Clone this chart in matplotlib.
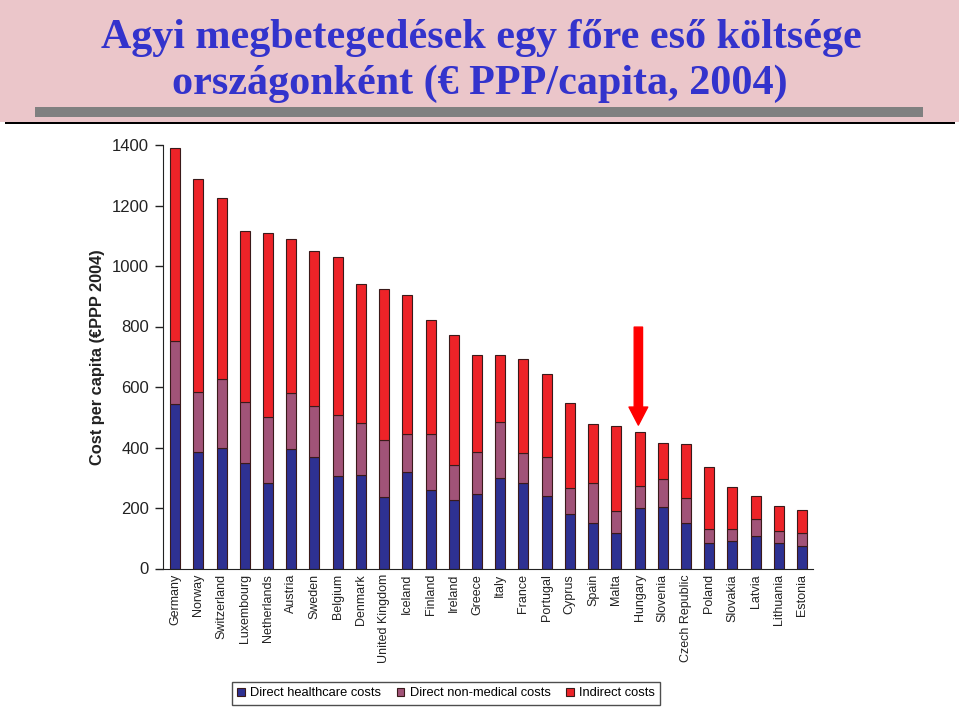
import numpy as np
import matplotlib.pyplot as plt
from matplotlib.patches import Rectangle

countries = ["Germany", "Norway", "Switzerland", "Luxembourg", "Netherlands", "Austria",
             "Sweden", "Belgium", "Denmark", "United Kingdom", "Iceland", "Finland",
             "Ireland", "Greece", "Italy", "France", "Portugal", "Cyprus", "Spain",
             "Malta", "Hungary", "Slovenia", "Czech Republic", "Poland", "Slovakia",
             "Latvia", "Lithuania", "Estonia"]
healthcare = [543, 384, 399, 349, 281, 395, 367, 305, 309, 238, 318, 259, 226, 245,
              298, 281, 240, 179, 149, 116, 199, 202, 149, 83, 90, 109, 83, 75]
non_medical = [210, 199, 228, 203, 219, 185, 170, 201, 171, 188, 127, 186, 117, 141,
               187, 102, 129, 88, 132, 74, 74, 93, 83, 46, 42, 55, 41, 41]
indirect = [637, 705, 598, 565, 609, 510, 514, 525, 459, 497, 460, 375, 430, 320,
            221, 309, 273, 281, 198, 282, 179, 119, 178, 207, 138, 76, 82, 79]
series_names = ["Direct healthcare costs", "Direct non-medical costs", "Indirect costs"]
series_colors = ["#2e3192", "#a15378", "#ed2328"]

# nyíl Magyarország fölött
arrow_idx = countries.index("Hungary")
arrow_from, arrow_to = 798, 474

plt.rcParams["font.family"] = ["Liberation Sans", "DejaVu Sans"]

fig = plt.figure(figsize=(9.59, 7.08), dpi=100)

# ---- címsáv ----
fig.patches.append(Rectangle((0, 1 - 122 / 708), 1, 122 / 708, transform=fig.transFigure,
                             facecolor="#ebc6ca", edgecolor="none", zorder=0))
fig.patches.append(Rectangle((35 / 959, 1 - 117 / 708), 888 / 959, 10 / 708,
                             transform=fig.transFigure, facecolor="#808080",
                             edgecolor="none", zorder=1))
fig.patches.append(Rectangle((5 / 959, 1 - 124 / 708), 950 / 959, 2 / 708,
                             transform=fig.transFigure, facecolor="black",
                             edgecolor="none", zorder=1))
title_kw = dict(ha="center", va="baseline", color="#3333cc", fontweight="bold",
                family=["Liberation Serif", "DejaVu Serif"], fontsize=30.3)
fig.text(481 / 959, 1 - 48 / 708, "Agyi megbetegedések egy főre eső költsége", **title_kw)
fig.text(480 / 959, 1 - 94 / 708, "országonként (€ PPP/capita, 2004)", **title_kw)

# ---- diagram ----
ax = fig.add_axes([163 / 959, 139.5 / 708, 650 / 959, 423.5 / 708])
x = np.arange(len(countries))
bottom = np.zeros(len(countries))
for vals, name, col in zip([healthcare, non_medical, indirect], series_names, series_colors):
    ax.bar(x, vals, bottom=bottom, width=0.43, color=col, edgecolor="#3a1a1a",
           linewidth=0.8, label=name)
    bottom += np.array(vals)

ax.annotate("", xy=(arrow_idx - 0.05, arrow_to), xytext=(arrow_idx - 0.05, arrow_from),
            arrowprops=dict(arrowstyle="simple,head_length=1.3,head_width=1.35,tail_width=0.6",
                            mutation_scale=10, color="#ff0000", shrinkA=0, shrinkB=0))

ax.set_xlim(-0.52, len(countries) - 0.53)
ax.set_ylim(0, 1400)
ax.set_yticks(range(0, 1401, 200))
ax.set_xticks(x)
ax.set_xticklabels(countries, rotation=90, fontsize=9, color="#222222")
ax.tick_params(axis="x", length=0, pad=4)
ax.tick_params(axis="y", length=6, width=1, labelsize=12, colors="#222222", pad=4)
for s in ["top", "right"]:
    ax.spines[s].set_visible(False)
for s in ["left", "bottom"]:
    ax.spines[s].set_color("#222222")
ax.set_ylabel("Cost per capita (€PPP 2004)", fontsize=11.8, fontweight="bold",
              color="#222222", labelpad=5)

leg = fig.legend(loc="center", bbox_to_anchor=(446 / 959, 1 - 693.5 / 708), ncol=3,
                 fontsize=9.3, frameon=True, fancybox=False, handlelength=0.6,
                 handleheight=0.6, handletextpad=0.4, columnspacing=1.2,
                 borderpad=0.4)
leg.get_frame().set_edgecolor("#222222")
leg.get_frame().set_linewidth(1)

fig.savefig("out.png", dpi=100)
